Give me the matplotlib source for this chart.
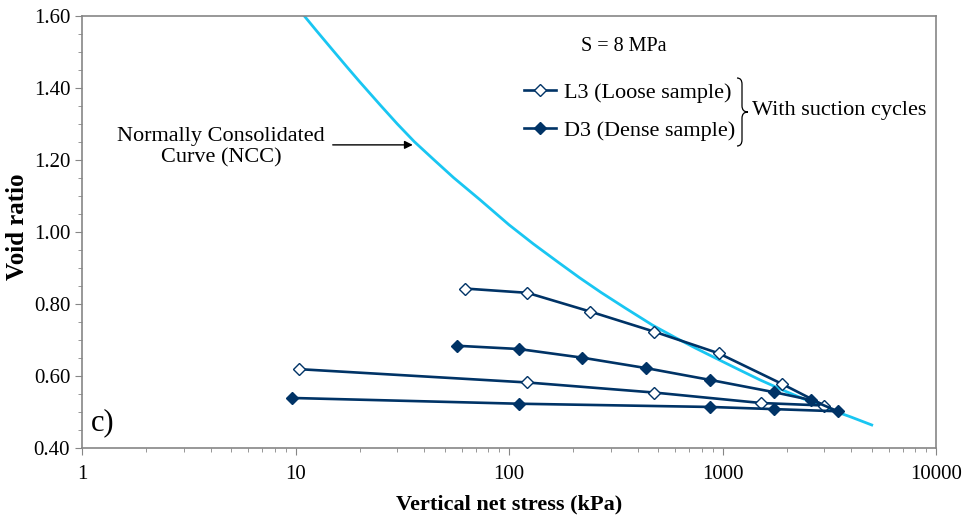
import matplotlib
matplotlib.use("Agg")
import matplotlib.pyplot as plt
from matplotlib.path import Path
from matplotlib.patches import PathPatch
from matplotlib.ticker import FixedLocator, LogLocator, NullFormatter, FuncFormatter, MultipleLocator

plt.rcParams['font.family'] = ['Liberation Serif', 'DejaVu Serif']

# normally consolidated curve
ncc_stress = [11, 12.5, 15, 17.5, 20, 25, 30, 36, 45, 55, 73, 100, 130, 170, 214, 270, 350, 471,
              600, 750, 948, 1200, 1500, 2000, 2500, 3000, 4000, 5000]
ncc_void = [1.600, 1.560, 1.504, 1.457, 1.417, 1.352, 1.300, 1.251, 1.198, 1.151, 1.090, 1.020,
            0.967, 0.916, 0.873, 0.832, 0.789, 0.741, 0.707, 0.677, 0.647, 0.617, 0.589, 0.556,
            0.532, 0.513, 0.486, 0.464]

# L3 loose sample (loading then unloading)
l3_stress = [62, 122, 240, 480, 960, 1900, 3000, 1515, 480, 122, 10.4]
l3_void = [0.843, 0.831, 0.779, 0.723, 0.663, 0.578, 0.518, 0.525, 0.554, 0.582, 0.619]

# D3 dense sample
d3_stress = [57, 111, 220, 438, 877, 1746, 2610, 3470, 1746, 877, 111, 9.6]
d3_void = [0.684, 0.675, 0.651, 0.622, 0.589, 0.555, 0.533, 0.502, 0.508, 0.514, 0.523, 0.539]

navy = "#003366"
cyan = "#19c6f2"
grey = "#868686"

fig = plt.figure(figsize=(9.63, 5.16), dpi=100, facecolor="white")
ax = fig.add_axes([82 / 963, 1 - 448 / 516, (936 - 82) / 963, (448 - 16) / 516])

ax.plot(ncc_stress, ncc_void, color=cyan, lw=2.0, zorder=2)
ax.plot(l3_stress, l3_void, color=navy, lw=1.9, marker="D", ms=6.5,
        mfc="white", mec=navy, mew=1.0, label="L3 (Loose sample)", zorder=3)
ax.plot(d3_stress, d3_void, color=navy, lw=1.9, marker="D", ms=6.5,
        mfc=navy, mec=navy, label="D3 (Dense sample)", zorder=3)

ax.set_xscale("log")
ax.set_xlim(1, 10000)
ax.set_ylim(0.40, 1.60)
ax.xaxis.set_major_locator(FixedLocator([1, 10, 100, 1000, 10000]))
ax.xaxis.set_major_formatter(FuncFormatter(lambda v, p: f"{v:.0f}"))
ax.xaxis.set_minor_locator(LogLocator(base=10, subs=range(2, 10)))
ax.xaxis.set_minor_formatter(NullFormatter())
ax.yaxis.set_major_locator(MultipleLocator(0.2))
ax.yaxis.set_minor_locator(MultipleLocator(0.05))
ax.yaxis.set_major_formatter(FuncFormatter(lambda v, p: f"{v:.2f}"))

for s in ax.spines.values():
    s.set_color(grey)
    s.set_linewidth(1.2)
ax.tick_params(which="both", direction="out", color=grey, labelsize=15)
ax.tick_params(which="major", length=5)
ax.tick_params(which="minor", length=3)
ax.tick_params(axis="x", pad=7)

ax.set_xlabel("Vertical net stress (kPa)", fontsize=16, fontweight="bold", labelpad=8)
ax.set_ylabel("Void ratio", fontsize=18, fontweight="bold")
ax.yaxis.set_label_coords(-0.062, 0.512)

# annotations
ax.text(0.634, 0.93, "S = 8 MPa", transform=ax.transAxes, fontsize=14.5, ha="center", va="center")
ax.text(0.163, 0.697, "Normally Consolidated\nCurve (NCC)", transform=ax.transAxes,
        fontsize=16, ha="center", va="center", linespacing=1.15)
ax.annotate("", xy=(36.5, 1.242), xytext=(14.5, 1.242),
            arrowprops=dict(arrowstyle="-|>", color="black", lw=1.0, mutation_scale=12))
ax.text(0.010, 0.058, "c)", transform=ax.transAxes, fontsize=22, ha="left", va="center")

leg = ax.legend(loc="center left", bbox_to_anchor=(524 / 963, 1 - 111.5 / 516),
                bbox_transform=fig.transFigure, frameon=False, fontsize=16,
                handlelength=1.45, handletextpad=0.35, labelspacing=0.78,
                borderpad=0, borderaxespad=0)

# curly brace
x0, xm, xt = 737 / 963, 742 / 963, 748 / 963
ytop, ymid, ybot = 1 - 78 / 516, 1 - 112 / 516, 1 - 146 / 516
verts = [(x0, ytop), (xm, ytop), (xm, ytop - 0.012), (xm, ymid + 0.012), (xm, ymid), (xt, ymid),
         (xt, ymid), (xm, ymid), (xm, ymid - 0.012), (xm, ybot + 0.012), (xm, ybot), (x0, ybot)]
codes = [Path.MOVETO, Path.CURVE3, Path.CURVE3, Path.LINETO, Path.CURVE3, Path.CURVE3,
         Path.MOVETO, Path.CURVE3, Path.CURVE3, Path.LINETO, Path.CURVE3, Path.CURVE3]
fig.add_artist(PathPatch(Path(verts, codes), transform=fig.transFigure, fill=False,
                         edgecolor="black", lw=0.9))
fig.text(752 / 963, 1 - 111 / 516, "With suction cycles", fontsize=16, ha="left", va="center")

fig.savefig("out.png", dpi=100, facecolor="white")
